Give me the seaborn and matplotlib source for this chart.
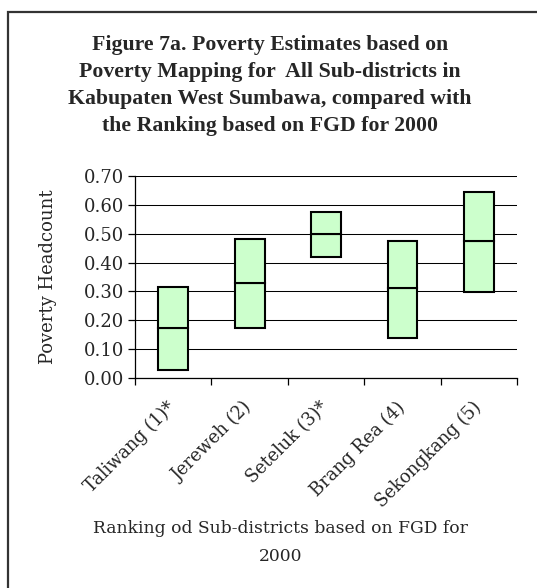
import pandas as pd
import numpy as np
import matplotlib
matplotlib.use('Agg')
import matplotlib.pyplot as plt
import matplotlib.transforms as mtransforms
from matplotlib.patches import Rectangle
import seaborn as sns

# poverty headcount per sub-district (lower bound, estimate, upper bound)
sub_districts = ['Taliwang (1)*', 'Jereweh (2)', 'Seteluk (3)*', 'Brang Rea (4)', 'Sekongkang (5)']
low = [0.029, 0.173, 0.420, 0.140, 0.297]
mid = [0.173, 0.329, 0.500, 0.311, 0.475]
high = [0.317, 0.480, 0.573, 0.475, 0.645]

yticks = [0.0, 0.1, 0.2, 0.3, 0.4, 0.5, 0.6, 0.7]

df = pd.DataFrame({'district': sub_districts, 'low': low, 'mid': mid, 'high': high})
df['lower_part'] = df['mid'] - df['low']
df['upper_part'] = df['high'] - df['mid']

sns.set_style('white')
plt.rcParams['font.family'] = ['DejaVu Serif']

fig = plt.figure(figsize=(5.37, 5.88), dpi=100)
ax = fig.add_axes([0.2514, 0.3566, 0.7114, 0.3446])

box_kws = dict(color='#ccffcc', edgecolor='black', linewidth=1.5, width=0.39, saturation=1, zorder=3)
sns.barplot(data=df, x='district', y='lower_part', bottom=df['low'].values, ax=ax, **box_kws)
sns.barplot(data=df, x='district', y='upper_part', bottom=df['mid'].values, ax=ax, **box_kws)

ax.set_ylim(0, 0.7)
ax.set_xlim(-0.5, len(sub_districts) - 0.5)
ax.set_yticks(yticks)
ax.set_yticklabels([f'{v:.2f}' for v in yticks], fontsize=13)
ax.yaxis.grid(True, color='black', linewidth=0.75)
ax.set_axisbelow(True)

for side in ['top', 'right']:
    ax.spines[side].set_visible(False)
for side in ['left', 'bottom']:
    ax.spines[side].set_color('black')
    ax.spines[side].set_linewidth(0.9)

ax.tick_params(axis='y', left=True, length=5, width=0.9, color='black', pad=3)
ax.set_xticks(range(len(sub_districts)))
ax.set_xticks(np.arange(-0.5, len(sub_districts)), minor=True)
ax.tick_params(axis='x', which='major', bottom=False, pad=4)
ax.tick_params(axis='x', which='minor', bottom=True, length=5, width=0.9, color='black')
ax.set_xticklabels(sub_districts, rotation=45, ha='right', rotation_mode='anchor', fontsize=12.8)
shift = mtransforms.ScaledTranslation(-5 / 72, -7 / 72, fig.dpi_scale_trans)
for lab in ax.get_xticklabels():
    lab.set_transform(lab.get_transform() + shift)

ax.set_ylabel('Poverty Headcount', fontsize=13)
ax.yaxis.set_label_coords(-0.205, 0.5)
ax.set_xlabel('Ranking od Sub-districts based on FGD for\n2000', fontsize=12.3, linespacing=1.8)
ax.xaxis.set_label_coords(0.38, -0.70)
ax.xaxis.label.set_va('top')

fig.text(0.503, 0.940,
         'Figure 7a. Poverty Estimates based on\nPoverty Mapping for  All Sub-districts in\n'
         'Kabupaten West Sumbawa, compared with\nthe Ranking based on FGD for 2000',
         ha='center', va='top', fontsize=15.7, fontweight='bold', family='Liberation Serif',
         linespacing=1.47)

# chart-area border (cut off at right and bottom like the source)
fig.patches.append(Rectangle((8 / 537, -0.1), 1.2, 1.1 - 12 / 588, transform=fig.transFigure,
                             fill=False, edgecolor='#333333', linewidth=1.6))

fig.savefig('out.png', dpi=100)
